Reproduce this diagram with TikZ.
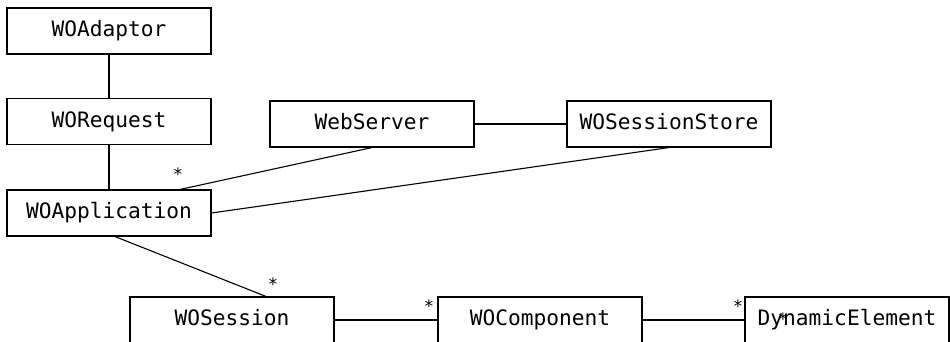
\documentclass[tikz,border=0pt]{standalone}
\usepackage{fontspec}
\setmonofont{DejaVu Sans Mono}
\begin{document}
\begin{tikzpicture}[x=1pt,y=-1pt,line width=1.1pt,
  cls/.style={draw,rectangle,minimum width=204pt,minimum height=46pt,inner sep=0pt,
    text height=15pt,text depth=4pt,font=\fontsize{21.2}{25}\selectfont\ttfamily},
  mult/.style={font=\fontsize{17}{18}\selectfont\ttfamily,inner sep=0pt}]

\useasboundingbox (0,0) rectangle (950,341);

% Classes
\node[cls] (adaptor) at (109,31) {WOAdaptor};
\node[cls] (request) at (109,121.5) {WORequest};
\node[cls] (application) at (109,213) {WOApplication};
\node[cls] (webserver) at (372,124) {WebServer};
\node[cls] (store) at (669,124) {WOSessionStore};
\node[cls] (session) at (232,320) {WOSession};
\node[cls] (component) at (540,320) {WOComponent};
\node[cls] (dynamic) at (847,320) {DynamicElement};

% Associations
\draw (adaptor.south) -- (request.north);
\draw (request.south) -- (application.north);
\draw (webserver.east) -- (store.west);
\draw (webserver.south) -- ([xshift=71pt]application.north);
\draw (store.south) -- (application.east);
\draw ([xshift=6pt]application.south) -- ([xshift=34pt]session.north);
\draw (session.east) -- (component.west);
\draw (component.east) -- (dynamic.west);

% Multiplicities
\node[mult] (m1) at (178,174) {*};
\node[mult] (m2) at (273,284) {*};
\node[mult] (m3) at (429,306) {*};
\node[mult] (m4) at (738,306) {*};
\node[mult] (m5) at (783,319) {*};

\end{tikzpicture}
\end{document}
